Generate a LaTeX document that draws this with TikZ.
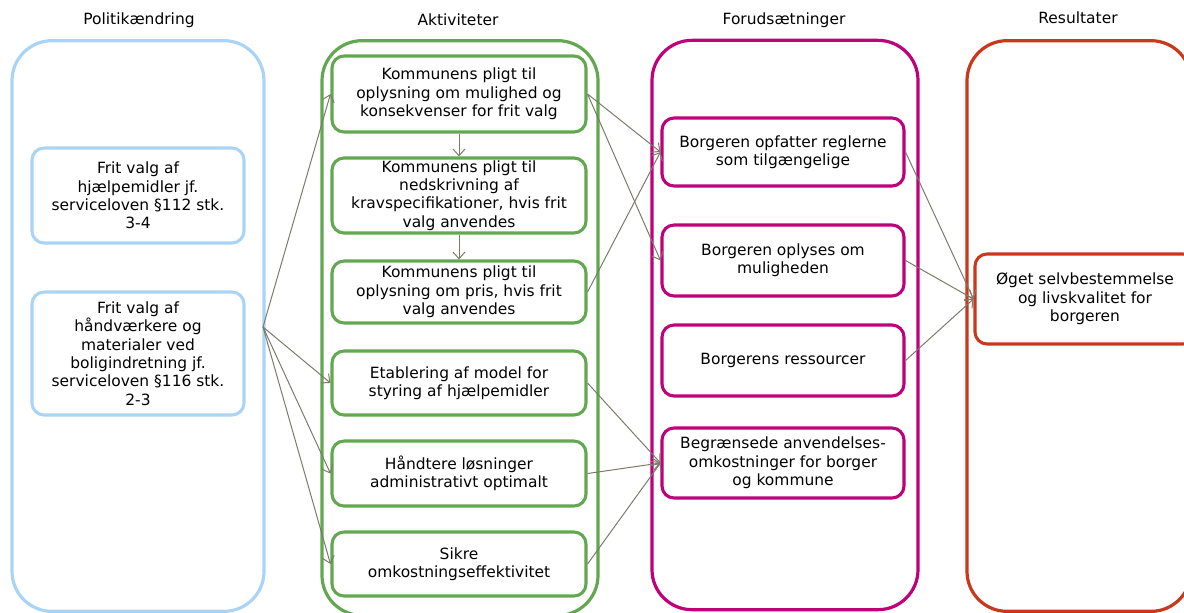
\documentclass[tikz,border=0pt]{standalone}
\usepackage{fontspec}
\setmainfont{DejaVu Sans}
\usetikzlibrary{arrows.meta}
\definecolor{cblue}{RGB}{170,212,245}
\definecolor{cgreen}{RGB}{98,168,80}
\definecolor{cpink}{RGB}{192,0,122}
\definecolor{cred}{RGB}{202,56,28}
\definecolor{cgrey}{RGB}{125,122,108}
\tikzset{
  cont/.style={draw, line width=2.4pt, rounded corners=30pt, inner sep=0pt},
  ibox/.style={draw, line width=2.3pt, rounded corners=9pt, fill=white, align=center, inner sep=0pt,
    font=\fontsize{11.6}{13.8}\selectfont},
  hdr/.style={font=\fontsize{11.6}{13.8}\selectfont},
  conn/.style={draw=cgrey, line width=0.75pt, -{Straight Barb[length=5pt,width=9pt,line width=0.75pt]}},
}
\begin{document}
\begin{tikzpicture}[x=0.75pt,y=-0.75pt]
\useasboundingbox (0,0) rectangle (1184,612);
\clip (0,0) rectangle (1184,612);
% containers
\node[cont, draw=cblue, minimum width=189pt, minimum height=428pt] (cpol) at (138,326) {};
\node[cont, draw=cgreen, minimum width=207pt, minimum height=431pt] (cakt) at (460,328) {};
\node[cont, draw=cpink, minimum width=199.5pt, minimum height=427pt] (cfor) at (785,325) {};
\node[cont, draw=cred, minimum width=168pt, minimum height=428pt] (cres) at (1079,326) {};
% headers
\node[hdr] (hpol) at (139,20) {Politikændring};
\node[hdr] (hakt) at (458,20) {Aktiviteter};
\node[hdr] (hfor) at (784,20) {Forudsætninger};
\node[hdr] (hres) at (1078,18) {Resultater};
% left boxes
\node[ibox, draw=cblue, minimum width=159pt, minimum height=71.25pt] (L1) at (138,195.5)
  {Frit valg af\\hjælpemidler jf.\\serviceloven §112 stk.\\3-4};
\node[ibox, draw=cblue, minimum width=159pt, minimum height=92.25pt] (L2) at (138,353.5)
  {Frit valg af\\håndværkere og\\materialer ved\\boligindretning jf.\\serviceloven §116 stk.\\2-3};
% green boxes
\node[ibox, draw=cgreen, minimum width=190.5pt, minimum height=57pt] (G1) at (459,94)
  {Kommunens pligt til\\oplysning om mulighed og\\konsekvenser for frit valg};
\node[ibox, draw=cgreen, minimum width=190.5pt, minimum height=56.25pt] (G2) at (459,195.5)
  {Kommunens pligt til\\nedskrivning af\\kravspecifikationer, hvis frit\\valg anvendes};
\node[ibox, draw=cgreen, minimum width=190.5pt, minimum height=46.5pt] (G3) at (459,292)
  {Kommunens pligt til\\oplysning om pris, hvis frit\\valg anvendes};
\node[ibox, draw=cgreen, minimum width=190.5pt, minimum height=48pt] (G4) at (459,383)
  {Etablering af model for\\styring af hjælpemidler};
\node[ibox, draw=cgreen, minimum width=190.5pt, minimum height=48.75pt] (G5) at (459,473.5)
  {Håndtere løsninger\\administrativt optimalt};
\node[ibox, draw=cgreen, minimum width=190.5pt, minimum height=48pt] (G6) at (459,564)
  {Sikre\\omkostningseffektivitet};
% pink boxes
\node[ibox, draw=cpink, minimum width=181.5pt, minimum height=51pt] (P1) at (783,152)
  {Borgeren opfatter reglerne\\som tilgængelige};
\node[ibox, draw=cpink, minimum width=181.5pt, minimum height=53.25pt] (P2) at (783,260.5)
  {Borgeren oplyses om\\muligheden};
\node[ibox, draw=cpink, minimum width=181.5pt, minimum height=53.25pt] (P3) at (783,360.5)
  {Borgerens ressourcer};
\node[ibox, draw=cpink, minimum width=181.5pt, minimum height=52.5pt] (P4) at (783,463)
  {Begrænsede anvendelses-\\omkostninger for borger\\og kommune};
% result box
\node[ibox, draw=cred, minimum width=165pt, minimum height=67.5pt] (R1) at (1085,299)
  {Øget selvbestemmelse\\og livskvalitet for\\borgeren};
% connectors
\coordinate (src) at (263,327);
\draw[conn] (src) -- (G1.west);
\draw[conn] (src) -- (G4.west);
\draw[conn] (src) -- (G5.west);
\draw[conn] (src) -- (G6.west);
\draw[conn] (G1.south) -- (G2.north);
\draw[conn] (G2.south) -- (G3.north);
\draw[conn] (G1.east) -- (P1.west);
\draw[conn] (G1.east) -- (P2.west);
\draw[conn] (G3.east) -- (P1.west);
\draw[conn] (G4.east) -- (P4.west);
\draw[conn] (G5.east) -- (P4.west);
\draw[conn] (G6.east) -- (P4.west);
\draw[conn] (P1.east) -- (R1.west);
\draw[conn] (P2.east) -- (R1.west);
\draw[conn] (P3.east) -- (R1.west);
\end{tikzpicture}
\end{document}
